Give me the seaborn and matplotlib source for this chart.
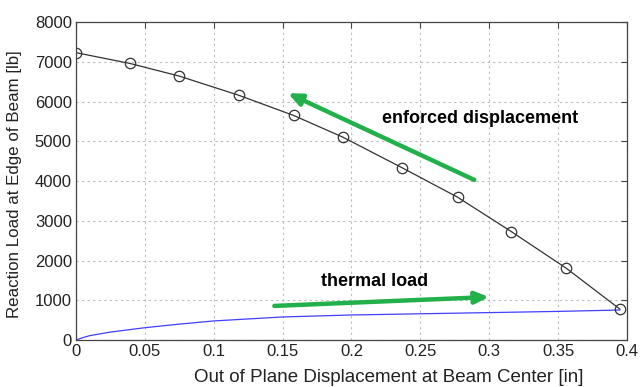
import matplotlib
matplotlib.use("Agg")
import matplotlib.pyplot as plt
import seaborn as sns
import pandas as pd

# Enforced displacement curve (black with circles)
enf_x = [0.0, 0.039, 0.075, 0.118, 0.158, 0.194, 0.237, 0.277, 0.316, 0.356, 0.395]
enf_y = [7230, 6960, 6640, 6160, 5650, 5100, 4330, 3595, 2730, 1805, 775]

# Thermal load curve (blue)
th_x = [0.0, 0.005, 0.01, 0.025, 0.05, 0.075, 0.1, 0.15, 0.2, 0.25, 0.3, 0.35, 0.395]
th_y = [0, 60, 110, 200, 310, 400, 480, 580, 630, 660, 690, 720, 755]

x_ticks = [0, 0.05, 0.1, 0.15, 0.2, 0.25, 0.3, 0.35, 0.4]
x_tick_labels = ["0", "0.05", "0.1", "0.15", "0.2", "0.25", "0.3", "0.35", "0.4"]
y_ticks = [0, 1000, 2000, 3000, 4000, 5000, 6000, 7000, 8000]

enf_label = "enforced displacement"
th_label = "thermal load"
enf_arrow_tail = (0.291, 4000)
enf_arrow_head = (0.152, 6240)
th_arrow_tail = (0.142, 855)
th_arrow_head = (0.302, 1085)

sns.set_style("white")
plt.rcParams['font.family'] = ['Liberation Sans', 'DejaVu Sans']

fig = plt.figure(figsize=(6.41, 3.87), dpi=100)
ax = fig.add_axes([0.1186, 0.1214, 0.978 - 0.1186, 0.943 - 0.1214])

enf_df = pd.DataFrame({"x": enf_x, "y": enf_y})
th_df = pd.DataFrame({"x": th_x, "y": th_y})

sns.lineplot(data=th_df, x="x", y="y", ax=ax, color="#4040ff", linewidth=0.9, sort=False)
sns.lineplot(data=enf_df, x="x", y="y", ax=ax, color="#333333", linewidth=0.9, sort=False,
             marker="o", markersize=7.5, markerfacecolor="none", markeredgecolor="#333333",
             markeredgewidth=0.9)

ax.set_xlim(0, 0.4)
ax.set_ylim(0, 8000)
ax.set_xticks(x_ticks)
ax.set_xticklabels(x_tick_labels)
ax.set_yticks(y_ticks)
ax.grid(True, color="#bbbbbb", linestyle=(0, (2, 3)), linewidth=0.8)
ax.tick_params(direction="in", length=4, width=0.8, color="#444444",
               top=True, right=True, labelsize=12, labelcolor="#222222", pad=3)
for s in ax.spines.values():
    s.set_color("#444444")
    s.set_linewidth(0.9)

ax.set_xlabel("Out of Plane Displacement at Beam Center [in]", fontsize=13.5, color="#222222")
ax.set_ylabel("Reaction Load at Edge of Beam [lb]", fontsize=12.2, color="#222222")
ax.xaxis.label.set_va("center")
ax.yaxis.label.set_va("center")
ax.xaxis.set_label_coords(0.568, -0.119)
ax.yaxis.set_label_coords(-0.111, 0.49)

ax.annotate("", xy=enf_arrow_head, xytext=enf_arrow_tail,
            arrowprops=dict(arrowstyle="-|>,head_length=0.8,head_width=0.35", color="#22b04b", lw=3.2))
ax.annotate("", xy=th_arrow_head, xytext=th_arrow_tail,
            arrowprops=dict(arrowstyle="-|>,head_length=0.8,head_width=0.35", color="#22b04b", lw=3.2))

ax.text(0.2935, 5585, enf_label, fontsize=13, fontweight="bold", ha="center", va="center", color="black")
ax.text(0.2165, 1460, th_label, fontsize=13, fontweight="bold", ha="center", va="center", color="black")

fig.savefig("out.png", dpi=100)
